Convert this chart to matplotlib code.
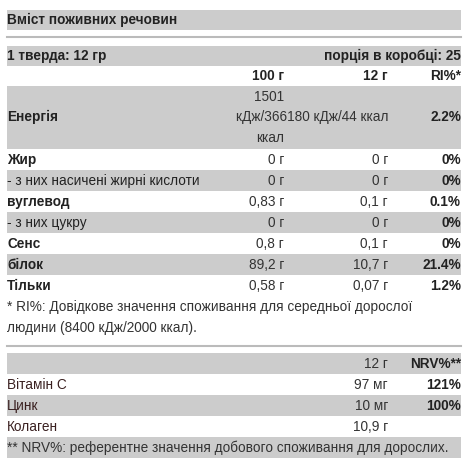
import matplotlib
matplotlib.use("Agg")
import matplotlib.pyplot as plt
from matplotlib.patches import Rectangle

plt.rcParams['font.family'] = ['Liberation Sans', 'DejaVu Sans']

title = "Вміст поживних речовин"
serving_left = "1 тверда: 12 гр"
serving_right = "порція в коробці: 25"
col_headers = ["100 г", "12 г", "RI%*"]

energy_name = "Енергія"
energy_100_top = "1501"
energy_mid = "кДж/366180 кДж/44 ккал"
energy_100_bottom = "ккал"
energy_ri = "2.2%"

names = ["Жир", "- з них насичені жирні кислоти", "вуглевод", "- з них цукру",
         "Сенс", "білок", "Тільки"]
bold_names = [True, False, True, False, True, True, True]
per100 = ["0 г", "0 г", "0,83 г", "0 г", "0,8 г", "89,2 г", "0,58 г"]
per12 = ["0 г", "0 г", "0,1 г", "0 г", "0,1 г", "10,7 г", "0,07 г"]
ri = ["0%", "0%", "0.1%", "0%", "0%", "21.4%", "1.2%"]

note1 = ["* RI%: Довідкове значення споживання для середньої дорослої",
         "людини (8400 кДж/2000 ккал)."]

vit_headers = ["12 г", "NRV%**"]
vit_names = ["Вітамін С", "Цинк", "Колаген"]
vit_12 = ["97 мг", "10 мг", "10,9 г"]
vit_nrv = ["121%", "100%", ""]
note2 = "** NRV%: референтне значення добового споживання для дорослих."

GRAY = "#cccccc"
TXT = "#222222"
FS = 9.8
X0, X1, XC1, XC2 = 7, 461, 284, 388

fig = plt.figure(figsize=(4.72, 4.73), dpi=100)
ax = fig.add_axes([0, 0, 1, 1])
ax.set_xlim(0, 472)
ax.set_ylim(473, 0)
ax.axis('off')

def band(y0, y1):
    ax.add_patch(Rectangle((X0, y0), X1 - X0, y1 - y0, facecolor=GRAY, edgecolor='none'))

def txt(x, y, s, ha='left', bold=False, color=TXT):
    ax.text(x, y, s, ha=ha, va='center', fontsize=FS, color=color,
            fontweight='bold' if bold else 'normal')

band(10, 30)
txt(X0, 20, title, bold=True)
ax.plot([X0, X1], [37, 37], color='#bbbbbb', lw=1.5)

band(46, 66)
txt(X0, 56, serving_left, bold=True)
txt(X1, 56, serving_right, ha='right', bold=True)

for x, h in zip([XC1, XC2, X1], col_headers):
    txt(x, 76, h, ha='right', bold=True)

band(86, 149)
txt(X0, 117, energy_name, bold=True)
txt(XC1, 97, energy_100_top, ha='right', color='#333333')
txt(XC2, 117, energy_mid, ha='right', color='#333333')
txt(XC1, 138, energy_100_bottom, ha='right', color='#333333')
txt(X1, 117, energy_ri, ha='right', bold=True)

row_h = 21
y = 149
for i, n in enumerate(names):
    if i % 2 == 1:
        band(y, y + row_h)
    yc = y + row_h / 2
    txt(X0, yc, n, bold=bold_names[i])
    txt(XC1, yc, per100[i], ha='right', color='#333333')
    txt(XC2, yc, per12[i], ha='right', color='#333333')
    txt(X1, yc, ri[i], ha='right', bold=True)
    y += row_h

txt(X0, 307, note1[0], color='#333333')
txt(X0, 328, note1[1], color='#333333')
ax.plot([X0, X1], [346, 346], color='#bbbbbb', lw=1.5)

band(353, 374)
txt(XC2, 364, vit_headers[0], ha='right', color='#333333')
txt(X1, 364, vit_headers[1], ha='right', bold=True)
y = 374
for i, n in enumerate(vit_names):
    if i % 2 == 1:
        band(y, y + row_h)
    yc = y + row_h / 2
    txt(X0, yc, n, color='#3a2020')
    txt(XC2, yc, vit_12[i], ha='right', color='#333333')
    txt(X1, yc, vit_nrv[i], ha='right', bold=True)
    y += row_h
band(437, 458)
txt(X0, 448, note2, color='#333333')

fig.savefig('out.png', dpi=100)
